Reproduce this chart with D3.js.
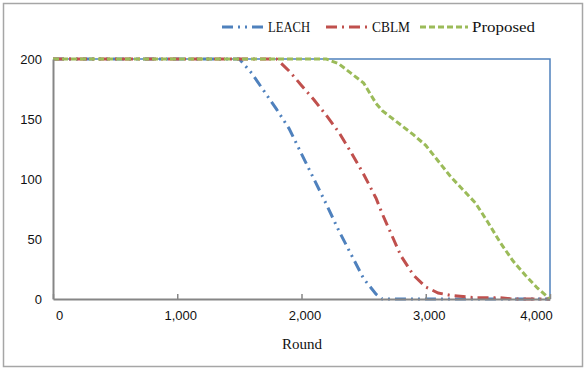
<!DOCTYPE html>
<html>
<head>
<meta charset="utf-8">
<script src="https://cdn.jsdelivr.net/npm/d3@7"></script>
<style>
  body { margin: 0; background: #fff; }
  svg { display: block; }
</style>
</head>
<body>
<svg id="chart" width="587" height="370"></svg>
<script>
// rounds shared by all three series
const rounds = [0, 1500, 1600, 1700, 1800, 1900, 2000, 2100, 2200, 2300, 2400, 2500,
                2600, 2650, 2800, 2900, 3000, 3100, 3200, 3300, 3400, 3500, 3600, 3700,
                3800, 3900, 4000];
const leach    = [200, 200, 188, 173, 158, 142, 121, 100, 79, 57, 37, 17,
                  4, 0, 0, 0, 0, 0, 0, 0, 0, 0, 0, 0, 0, 0, 0];
const cblm     = [200, 200, 200, 200, 200, 190, 178, 166, 153, 139, 122, 104,
                  84, 71, 36, 20, 10, 5, 3, 2, 1, 1, 1, 0, 0, 0, 0];
const proposed = [200, 200, 200, 200, 200, 200, 200, 200, 200, 196, 188, 180,
                  163, 157, 145, 137, 128, 115, 102, 91, 80, 64, 47, 32, 20, 9, 0];
const seriesNames = ['LEACH', 'CBLM', 'Proposed'];
const xTicks = [0, 1000, 2000, 3000, 4000];
const yTicks = [0, 50, 100, 150, 200];
const xTitle = 'Round';

const colors = ['#4F81BD', '#C0504D', '#9BBB59'];
const dashes = ['11,5,2,5,2,5', '11,5,2,5', '6,3'];

const svg = d3.select('#chart');
const plotL = 53, plotR = 550, plotT = 59, plotB = 299;

// outer frame
svg.append('rect')
    .attr('x', 3.5).attr('y', 3.5)
    .attr('width', 579).attr('height', 363)
    .attr('fill', '#fff')
    .attr('stroke', '#a6a6a6')
    .attr('stroke-width', 1.5);

const x = d3.scaleLinear().domain([0, 4000]).range([plotL, plotR]);
const y = d3.scaleLinear().domain([0, 200]).range([plotB, plotT]);

// plot border: top and right blue
svg.append('path')
    .attr('d', `M${plotL},${plotT}H${plotR}V${plotB}`)
    .attr('fill', 'none')
    .attr('stroke', '#4F81BD')
    .attr('stroke-width', 1.5);

// series
const series = [leach, cblm, proposed];
const line = d3.line()
    .x((d, i) => x(rounds[i]))
    .y(d => y(d));

series.forEach((vals, k) => {
    svg.append('path')
        .datum(vals)
        .attr('d', line)
        .attr('fill', 'none')
        .attr('stroke', colors[k])
        .attr('stroke-width', 3)
        .attr('stroke-dasharray', dashes[k]);
});

// axes
const xAxis = d3.axisBottom(x).tickValues(xTicks).tickSizeInner(-5).tickSizeOuter(0)
    .tickFormat(d3.format(','));
const gx = svg.append('g').attr('transform', `translate(0,${plotB})`).call(xAxis);
gx.select('.domain').attr('stroke', '#868686').attr('stroke-width', 2);
gx.selectAll('.tick line').attr('stroke', '#868686').attr('stroke-width', 1.5);
gx.selectAll('.tick text')
    .attr('y', 12)
    .attr('fill', '#111')
    .style('font-family', '"Liberation Sans", Arial, sans-serif')
    .style('font-size', '13px')
    .attr('dx', d => d === 0 ? 6 : d === 4000 ? -14 : 3);

const yAxis = d3.axisLeft(y).tickValues(yTicks).tickSize(0).tickPadding(11);
const gy = svg.append('g').attr('transform', `translate(${plotL},0)`).call(yAxis);
gy.select('.domain').attr('stroke', '#868686').attr('stroke-width', 2);
gy.selectAll('.tick text')
    .attr('fill', '#111')
    .style('font-family', '"Liberation Sans", Arial, sans-serif')
    .style('font-size', '13px');

svg.append('text')
    .attr('x', 282).attr('y', 349)
    .attr('textLength', 40)
    .attr('lengthAdjust', 'spacingAndGlyphs')
    .attr('fill', '#111')
    .style('font-family', '"Liberation Serif", serif')
    .style('font-size', '15px')
    .text(xTitle);

// legend
const legendX = [222, 326, 420];
const legendText = [268, 372, 472];
const legendLen = [42, 38, 63];
seriesNames.forEach((name, k) => {
    svg.append('line')
        .attr('x1', legendX[k]).attr('x2', legendText[k] - 4)
        .attr('y1', 27).attr('y2', 27)
        .attr('stroke', colors[k])
        .attr('stroke-width', 3)
        .attr('stroke-dasharray', dashes[k]);
    svg.append('text')
        .attr('x', legendText[k]).attr('y', 32)
        .attr('textLength', legendLen[k])
        .attr('lengthAdjust', 'spacingAndGlyphs')
        .attr('fill', '#111')
        .style('font-family', '"Liberation Serif", serif')
        .style('font-size', '15px')
        .text(name);
});
</script>
</body>
</html>
